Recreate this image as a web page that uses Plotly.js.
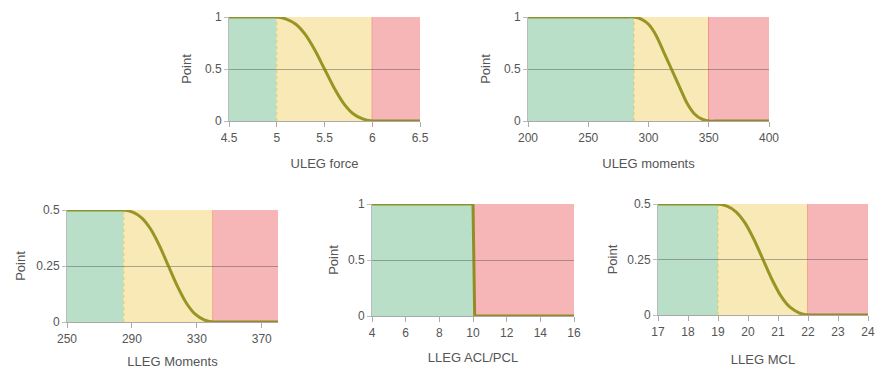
<!DOCTYPE html>
<html>
<head>
<meta charset="utf-8">
<script src="https://cdn.plot.ly/plotly-3.0.1.min.js"></script>
<style>html,body{margin:0;padding:0;background:#fff;}#chart{width:875px;height:370px;}</style>
</head>
<body>
<div id="chart"></div>
<script>
// ---- data ----
const titles = ["ULEG force", "ULEG moments", "LLEG Moments", "LLEG ACL/PCL", "LLEG MCL"];
const xRanges = [[4.5, 6.5], [200, 400], [250, 380], [4, 16], [17, 24]];
const yMax = [1, 1, 0.5, 1, 0.5];
const xDtick = [0.5, 50, 40, 2, 1];
const yDtick = [0.5, 0.5, 0.25, 0.5, 0.25];
const greenEnd = [5, 288, 285, 10, 19];
const redStart = [6, 350, 340, 10, 22];

const x1 = [4.5, 4.9, 5.0, 5.1, 5.2, 5.3, 5.4, 5.5, 5.6, 5.7, 5.8, 5.9, 6.0, 6.1, 6.5];
const y1 = [1, 1, 1, 0.98, 0.93, 0.83, 0.68, 0.5, 0.32, 0.17, 0.07, 0.02, 0, 0, 0];
const x2 = [200, 280, 288, 294, 300, 306, 312, 319, 326, 332, 338, 344, 350, 358, 400];
const y2 = [1, 1, 1, 0.98, 0.93, 0.83, 0.68, 0.5, 0.32, 0.17, 0.07, 0.02, 0, 0, 0];
const x3 = [250, 280, 285, 290.5, 296, 301.5, 307, 312.5, 318, 323.5, 329, 334.5, 340, 345, 380];
const y3 = [0.5, 0.5, 0.5, 0.49, 0.465, 0.415, 0.34, 0.25, 0.16, 0.085, 0.035, 0.01, 0, 0, 0];
const x4 = [4, 10, 10.1, 16];
const y4 = [1, 1, 0, 0];
const x5 = [17, 18.7, 19, 19.3, 19.6, 19.9, 20.2, 20.5, 20.8, 21.1, 21.4, 21.7, 22, 22.3, 24];
const y5 = [0.5, 0.5, 0.5, 0.49, 0.465, 0.415, 0.34, 0.25, 0.16, 0.085, 0.035, 0.01, 0, 0, 0];
const xs = [x1, x2, x3, x4, x5];
const ys = [y1, y2, y3, y4, y5];

// ---- layout (pixel boxes: left, top, right, bottom) ----
const W = 875, H = 370;
const boxes = [[229, 17, 420, 121], [528, 17, 769, 121], [67, 210, 278, 322], [372, 204, 574, 316], [658, 204, 868, 315]];
const xStandoff = [14, 14, 11, 13, 16];
const yStandoff = [10, 10, 7, 6, 6];

const GREEN = "#b9dfc9", YELLOW = "#f8e9b7", RED = "#f6b5b7";
const tickFont = {family: "Liberation Sans, Arial, sans-serif", size: 12, color: "#555"};
const titleFont = {family: "Liberation Sans, Arial, sans-serif", size: 13, color: "#555"};

const traces = [];
const layout = {
  width: W, height: H, margin: {l: 0, r: 0, t: 0, b: 0},
  paper_bgcolor: "#fff", plot_bgcolor: "#fff", showlegend: false,
  font: tickFont, shapes: []
};

for (let i = 0; i < 5; i++) {
  const n = i + 1;
  const xa = "xaxis" + (n === 1 ? "" : n), ya = "yaxis" + (n === 1 ? "" : n);
  const xr = "x" + (n === 1 ? "" : n), yr = "y" + (n === 1 ? "" : n);
  const b = boxes[i];
  layout[xa] = {
    domain: [b[0] / W, b[2] / W], range: xRanges[i], anchor: yr,
    dtick: xDtick[i], tick0: xRanges[i][0], showgrid: false, zeroline: false,
    showline: true, linecolor: "#aaa", linewidth: 1,
    ticks: "outside", ticklen: 5, tickcolor: "#aaa", ticklabelstandoff: 1,
    tickfont: tickFont, fixedrange: true,
    title: {text: titles[i], font: titleFont, standoff: xStandoff[i]}
  };
  layout[ya] = {
    domain: [1 - b[3] / H, 1 - b[1] / H], range: [0, yMax[i]], anchor: xr,
    dtick: yDtick[i], tick0: 0, showgrid: true, gridcolor: "rgba(80,80,80,0.45)",
    zeroline: false, showline: true, linecolor: "#bbb", linewidth: 1,
    ticks: "outside", ticklen: 4, tickcolor: "#bbb",
    tickfont: tickFont, fixedrange: true,
    title: {text: "Point", font: titleFont, standoff: yStandoff[i]}
  };
  const x0 = xRanges[i][0], xEnd = xRanges[i][1];
  layout.shapes.push({type: "rect", xref: xr, yref: yr + " domain", x0: x0, x1: greenEnd[i], y0: 0, y1: 1, fillcolor: GREEN, line: {width: 0}, layer: "below"});
  if (redStart[i] > greenEnd[i]) {
    layout.shapes.push({type: "rect", xref: xr, yref: yr + " domain", x0: greenEnd[i], x1: redStart[i], y0: 0, y1: 1, fillcolor: YELLOW, line: {width: 0}, layer: "below"});
    layout.shapes.push({type: "line", xref: xr, yref: yr + " domain", x0: greenEnd[i], x1: greenEnd[i], y0: 0, y1: 1, line: {color: "rgba(238,200,70,0.9)", width: 1, dash: "dot"}, layer: "below"});
    layout.shapes.push({type: "line", xref: xr, yref: yr + " domain", x0: redStart[i], x1: redStart[i], y0: 0, y1: 1, line: {color: "rgba(240,80,80,0.9)", width: 1}, layer: "below"});
  }
  layout.shapes.push({type: "rect", xref: xr, yref: yr + " domain", x0: redStart[i], x1: xEnd, y0: 0, y1: 1, fillcolor: RED, line: {width: 0}, layer: "below"});

  traces.push({
    type: "scatter", mode: "lines", x: xs[i], y: ys[i], xaxis: xr, yaxis: yr,
    line: {color: "rgba(128,128,0,0.8)", width: 3, shape: i === 3 ? "linear" : "spline", smoothing: 0.8},
    hoverinfo: "skip", cliponaxis: false
  });
}

Plotly.newPlot("chart", traces, layout, {displayModeBar: false, staticPlot: true});
</script>
</body>
</html>
